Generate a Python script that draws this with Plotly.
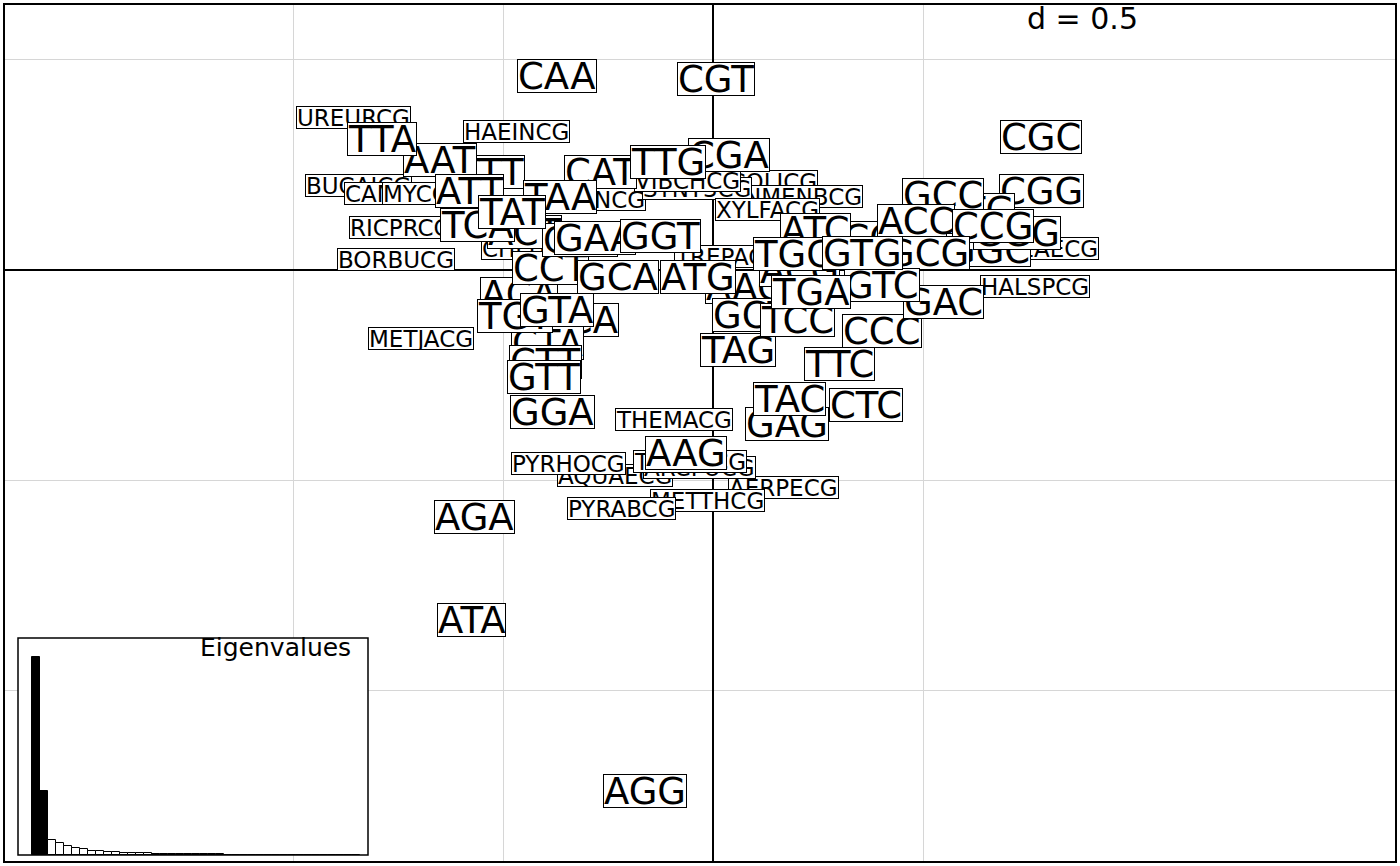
import plotly.graph_objects as go

# ---------------- data ----------------
species = ["AERPECG", "AQUAECG", "ARCFUCG", "BORBUCG", "BUCAICG", "CAMJECG",
           "CHLPNCG", "CHLTRCG", "ECOLICG", "HAEINCG", "HALSPCG", "METJACG",
           "METTHCG", "MYCGECG", "NMENACG", "NMENBCG", "PSEAECG", "PYRABCG",
           "PYRHOCG", "RICPRCG", "SYNY3CG", "THEACCG", "THEMACG", "TREPACG",
           "UREURCG", "VIBCHCG", "XYLFACG"]
species_x = [0.167, -0.233, -0.031, -0.755, -0.843, -0.750,
             -0.293, -0.424, 0.126, -0.469, 0.767, -0.695,
             -0.012, -0.650, 0.200, 0.214, 0.790, -0.219,
             -0.345, -0.743, -0.038, -0.055, -0.093, 0.036,
             -0.857, -0.060, 0.129]
species_y = [-0.519, -0.490, -0.471, 0.024, 0.202, 0.183,
             0.167, 0.052, 0.210, 0.329, -0.040, -0.164,
             -0.548, 0.183, 0.176, 0.176, 0.050, -0.569,
             -0.460, 0.100, 0.193, -0.457, -0.357, 0.033,
             0.362, 0.214, 0.145]

# codons listed in drawing order (later ones are drawn on top)
codons = ["TTT", "AAC", "AAG", "AAT", "ACA", "ACG", "ACT", "AGA", "AGG", "ATA", "TCG",
          "ATC", "ATG", "ATT", "CAA", "CAT", "CCA", "CCC", "CCT", "CGA",
          "CGC", "CGG", "CGT", "CTA", "CTC", "CTG", "CTT", "GAT", "GAA", "GAC", "GAG",
          "GCA", "GCC", "ACC", "GCT", "GGA", "GGC", "GGG", "CCG", "GCG",
          "GGT", "TGT", "GTA", "GTC", "TGC", "GTG", "GTT", "TAA", "TAC", "TAG",
          "TCA", "TAT", "TCC", "TGA", "TTA", "TTC", "TTG"]
codon_x = [-0.531, 0.076, -0.064, -0.650, -0.462, 0.207, -0.448, -0.567, -0.162, -0.574, 0.350,
           0.243, -0.036, -0.579, -0.371, -0.269, -0.317, 0.402, -0.388, 0.038,
           0.781, 0.783, 0.007, -0.393, 0.364, 0.624, -0.398, -0.317, -0.281, 0.548, 0.176,
           -0.226, 0.548, 0.483, 0.093, -0.381, 0.655, 0.724, 0.667, 0.510,
           -0.126, -0.471, -0.371, 0.402, 0.190, 0.355, -0.402, -0.364, 0.183, 0.060,
           -0.560, -0.479, 0.200, 0.233, -0.788, 0.302, -0.107]
codon_y = [0.233, -0.040, -0.436, 0.262, -0.057, 0.000, 0.090, -0.588, -1.240, -0.833, 0.076,
           0.095, -0.017, 0.188, 0.462, 0.233, -0.119, -0.145, 0.005, 0.274,
           0.317, 0.188, 0.455, -0.174, -0.321, 0.143, -0.219, 0.071, 0.076, -0.076, -0.367,
           -0.017, 0.179, 0.117, -0.107, -0.338, 0.048, 0.088, 0.105, 0.040,
           0.081, -0.110, -0.095, -0.036, 0.038, 0.040, -0.255, 0.174, -0.307, -0.190,
           0.107, 0.138, -0.119, -0.052, 0.312, -0.224, 0.257]

eigenvalues = [0.2960, 0.0960, 0.0220, 0.0175, 0.0135, 0.0110, 0.0085, 0.0065, 0.0055, 0.0045,
               0.0040, 0.0035, 0.0030, 0.0025, 0.0023, 0.0020, 0.0018, 0.0015, 0.0014, 0.0012,
               0.0011, 0.0010, 0.0009, 0.0008, 0.0007, 0.0006, 0.00055, 0.0005, 0.00045, 0.0004,
               0.00035, 0.0003, 0.00028, 0.00025, 0.00022, 0.0002, 0.00018, 0.00016, 0.00014,
               0.00012, 0.0001]
n_axes_kept = 2

# ---------------- figure ----------------
W, H = 1400, 866
M = 4
FONT = "DejaVu Sans"
XR = [-1.6881, 1.6262]
YR = [-1.4095, 0.6333]

fig = go.Figure()

# inset eigenvalue bars
eig_idx = list(range(1, len(eigenvalues) + 1))
colors = ["black" if i < n_axes_kept else "white" for i in range(len(eigenvalues))]
fig.add_trace(go.Bar(x=eig_idx, y=eigenvalues, marker=dict(color=colors, line=dict(color="black", width=1)),
                     width=1, xaxis="x2", yaxis="y2", showlegend=False, hoverinfo="skip"))

# invisible trace to activate main axes
fig.add_trace(go.Scatter(x=species_x, y=species_y, mode="markers",
                         marker=dict(size=1, opacity=0), showlegend=False, hoverinfo="skip"))

grid_vals_x = [-1.0, -0.5, 0.5]
grid_vals_y = [-1.0, -0.5, 0.5]

fig.update_layout(
    width=W, height=H,
    margin=dict(l=M, r=M, t=M, b=M),
    paper_bgcolor="white", plot_bgcolor="white",
    font=dict(family=FONT, color="black"),
    showlegend=False,
    bargap=0,
    xaxis=dict(range=XR, tickvals=grid_vals_x, showticklabels=False, ticks="",
               showgrid=True, gridcolor="#d6d6d6", gridwidth=1.4,
               zeroline=True, zerolinecolor="black", zerolinewidth=1.5,
               showline=False, fixedrange=True),
    yaxis=dict(range=YR, tickvals=grid_vals_y, showticklabels=False, ticks="",
               showgrid=True, gridcolor="#d6d6d6", gridwidth=1.4,
               zeroline=True, zerolinecolor="black", zerolinewidth=1.5,
               showline=False, fixedrange=True),
    xaxis2=dict(domain=[(18 - M) / (W - 2 * M), (368 - M) / (W - 2 * M)], anchor="y2",
                range=[-1.25, 42.5], showgrid=False, zeroline=False, showticklabels=False,
                ticks="", showline=False),
    yaxis2=dict(domain=[(H - M - 855) / (H - 2 * M), (H - M - 638) / (H - 2 * M)], anchor="x2",
                range=[0, eigenvalues[0] * 217 / 198], showgrid=False, zeroline=False,
                showticklabels=False, ticks="", showline=False),
)

# white background for inset (hides grid) + frame
ix0, ix1 = (18 - 713) / 420, (368 - 713) / 420
iy0, iy1 = (270 - 855) / 420, (270 - 638) / 420
fig.add_shape(type="rect", xref="x", yref="y", x0=ix0, x1=ix1, y0=iy0, y1=iy1,
              fillcolor="white", line=dict(width=0), layer="between")
fig.add_shape(type="rect", xref="x", yref="y", x0=ix0, x1=ix1, y0=iy0, y1=iy1,
              fillcolor="rgba(0,0,0,0)", line=dict(color="black", width=1.5), layer="above")
# main frame
fig.add_shape(type="rect", xref="paper", yref="paper", x0=0, x1=1, y0=0, y1=1,
              line=dict(color="black", width=2), layer="above")

annotations = []
for lab, x, y in zip(species, species_x, species_y):
    annotations.append(dict(x=x, y=y, xref="x", yref="y", text=lab, showarrow=False,
                            font=dict(family=FONT, size=23, color="black"),
                            bgcolor="white", bordercolor="black", borderwidth=1, borderpad=0,
                            height=21, xanchor="center", yanchor="middle"))
for lab, x, y in zip(codons, codon_x, codon_y):
    annotations.append(dict(x=x, y=y, xref="x", yref="y", text=lab, showarrow=False,
                            font=dict(family=FONT, size=37, color="black"),
                            bgcolor="white", bordercolor="black", borderwidth=1, borderpad=0,
                            height=32, xanchor="center", yanchor="middle"))

annotations.append(dict(x=(1082 - M) / (W - 2 * M), y=(H - M - 18) / (H - 2 * M), xref="paper", yref="paper",
                        text="d = 0.5", showarrow=False, font=dict(family=FONT, size=30, color="black"),
                        xanchor="center", yanchor="middle"))
annotations.append(dict(x=(353 - M) / (W - 2 * M), y=(H - M - 647) / (H - 2 * M), xref="paper", yref="paper",
                        text="Eigenvalues", showarrow=False, font=dict(family=FONT, size=25, color="black"),
                        xanchor="right", yanchor="middle"))
fig.update_layout(annotations=annotations)

fig.write_html("out.html")
